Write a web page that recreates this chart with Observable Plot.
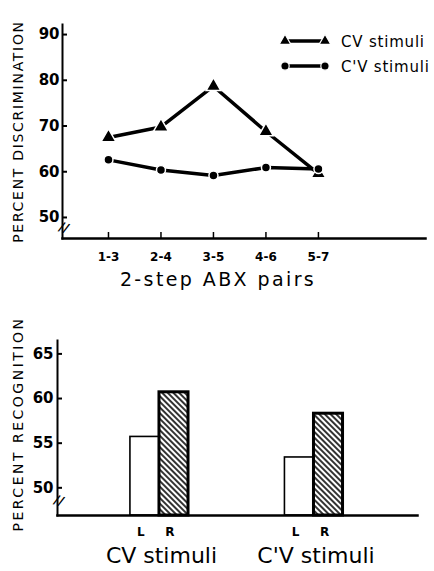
<!DOCTYPE html>
<html><head><meta charset="utf-8">
<script src="https://cdn.jsdelivr.net/npm/d3@7"></script>
<script src="https://cdn.jsdelivr.net/npm/@observablehq/plot@0.6"></script>
<style>
html,body{margin:0;padding:0;background:#fff;overflow:hidden;width:434px;height:571px}
#chart svg{display:block}
.legend text{letter-spacing:0.8px}
</style></head><body><div id="chart"></div>
<script>
// ---- data: top panel (percent discrimination) ----
const pairs = ["1-3", "2-4", "3-5", "4-6", "5-7"];
const cvDiscrimination = [67.5, 69.8, 78.7, 68.8, 59.6];
const cpvDiscrimination = [62.6, 60.4, 59.2, 60.9, 60.6];
const discTicks = [50, 60, 70, 80, 90];
// ---- data: bottom panel (percent recognition) ----
const stimuli = ["CV stimuli", "C'V stimuli"];
const ears = ["L", "R"];
const recognitionL = [55.7, 53.4];
const recognitionR = [60.7, 58.3];
const recTicks = [50, 55, 60, 65];

const font = "DejaVu Sans";
const discDomain = [45.4, 92.2];
const recDomain = [46.9, 66.5];
const yTitleTop = "PERCENT DISCRIMINATION";
const yTitleBottom = "PERCENT RECOGNITION";
const xTitleTop = "2-step ABX pairs";

const lineData = pairs.flatMap((p, i) => [
  {i, pair: p, series: "CV", v: cvDiscrimination[i]},
  {i, pair: p, series: "C'V", v: cpvDiscrimination[i]}
]);

const topPlot = Plot.plot({
  width: 434, height: 300,
  marginLeft: 62, marginRight: 9, marginTop: 24, marginBottom: 62,
  style: {fontFamily: font, background: "white", color: "black"},
  x: {type: "linear", domain: [-0.876, 6.04], axis: null},
  y: {domain: discDomain, axis: null},
  marks: [
    Plot.frame({anchor: "left", strokeWidth: 2}),
    Plot.frame({anchor: "bottom", strokeWidth: 2.5}),
    Plot.axisY(discTicks, {anchor: "left", tickSize: -5, tickPadding: 8, fontSize: 15, fontWeight: "bold", strokeWidth: 2, label: null}),
    Plot.axisX(pairs.map((p, i) => i), {anchor: "bottom", tickFormat: i => pairs[i], tickSize: -6, tickPadding: 20, fontSize: 12, fontWeight: "bold", strokeWidth: 1.5, label: null}),
    Plot.text(["//"], {frameAnchor: "bottom-left", textAnchor: "middle", dy: -7, fontSize: 13, fontWeight: "bold", rotate: 20}),
    Plot.text([yTitleTop], {frameAnchor: "left", textAnchor: "middle", rotate: -90, dx: -44, fontSize: 14}),
    Plot.text([xTitleTop], {frameAnchor: "bottom", dx: -26, dy: 47, lineAnchor: "bottom", fontSize: 19}),
    Plot.line(lineData, {x: "i", y: "v", z: "series", stroke: "black", strokeWidth: 3.5}),
    Plot.dot(lineData.filter(d => d.series === "CV"), {x: "i", y: "v", symbol: "triangle", r: 5.5, fill: "black", stroke: "white", strokeWidth: 1.5}),
    Plot.dot(lineData.filter(d => d.series === "C'V"), {x: "i", y: "v", symbol: "circle", r: 4.5, fill: "black", stroke: "white", strokeWidth: 1.5})
  ]
});

// legend
{
  const g = d3.select(topPlot).append("g").attr("class", "legend").attr("font-family", font);
  const rows = [{label: "CV stimuli", y: 41, sym: d3.symbolTriangle}, {label: "C'V stimuli", y: 66, sym: d3.symbolCircle}];
  rows.forEach(r => {
    g.append("line").attr("x1", 285).attr("x2", 325).attr("y1", r.y).attr("y2", r.y).attr("stroke", "black").attr("stroke-width", 3.5);
    [285, 325].forEach(x => g.append("path").attr("d", d3.symbol(r.sym, r.sym === d3.symbolTriangle ? 60 : 55)()).attr("transform", `translate(${x},${r.y})`).attr("fill", "black").attr("stroke", "white").attr("stroke-width", 1.2));
    g.append("text").attr("x", 341).attr("y", r.y + 6).attr("font-size", 15).attr("text-anchor", "start").text(r.label);
  });
}

const barW = 0.188;
const barData = stimuli.flatMap((s, g) => ears.map((e, k) => ({g, k, stim: s, ear: e, v: k === 0 ? recognitionL[g] : recognitionR[g]})));

const bottomPlot = Plot.plot({
  width: 434, height: 271,
  marginLeft: 57, marginRight: 17, marginTop: 40, marginBottom: 56,
  style: {fontFamily: font, background: "white", color: "black"},
  x: {type: "linear", domain: [-0.66, 1.67], axis: null},
  y: {domain: recDomain, axis: null},
  marks: [
    Plot.rectY(barData.filter(d => d.k === 0), {x1: d => d.g - barW, x2: d => d.g, y1: recDomain[0], y2: "v", fill: "white", stroke: "black", strokeWidth: 1.6}),
    Plot.rectY(barData.filter(d => d.k === 1), {x1: d => d.g, x2: d => d.g + barW, y1: recDomain[0], y2: "v", fill: "url(#hatch)", stroke: "black", strokeWidth: 3}),
    Plot.frame({anchor: "left", strokeWidth: 2}),
    Plot.frame({anchor: "bottom", strokeWidth: 2.5}),
    Plot.axisY(recTicks, {anchor: "left", tickSize: -5, tickPadding: 9, fontSize: 15, fontWeight: "bold", strokeWidth: 2, label: null}),
    Plot.text(["//"], {frameAnchor: "bottom-left", textAnchor: "middle", dy: -11, fontSize: 13, fontWeight: "bold", rotate: 20}),
    Plot.text([yTitleBottom], {frameAnchor: "left", textAnchor: "middle", rotate: -90, dx: -39, dy: -4, fontSize: 14}),
    Plot.text(barData, {x: d => d.g + (d.k - 0.5) * barW, text: "ear", frameAnchor: "bottom", dx: -4, dy: 12, lineAnchor: "top", fontSize: 12, fontWeight: "bold"}),
    Plot.text(stimuli, {x: (d, i) => i, text: d => d, frameAnchor: "bottom", dx: 2, dy: 32, lineAnchor: "top", fontSize: 22})
  ]
});

d3.select(bottomPlot).insert("defs", ":first-child").html(
  '<pattern id="hatch" patternUnits="userSpaceOnUse" width="4" height="4" patternTransform="rotate(-45)">' +
  '<rect width="4" height="4" fill="white"/><line x1="1" y1="0" x2="1" y2="4" stroke="black" stroke-width="1.6"/></pattern>'
);

// letter spacing for titles
const spacing = {[yTitleTop]: "1.7px", [yTitleBottom]: "2.5px", [xTitleTop]: "2.4px"};
[topPlot, bottomPlot].forEach(svg => {
  d3.select(svg).selectAll("text").each(function () {
    const s = spacing[this.textContent];
    if (s) this.setAttribute("letter-spacing", s);
  });
});

document.getElementById("chart").append(topPlot, bottomPlot);
</script>
</body></html>
